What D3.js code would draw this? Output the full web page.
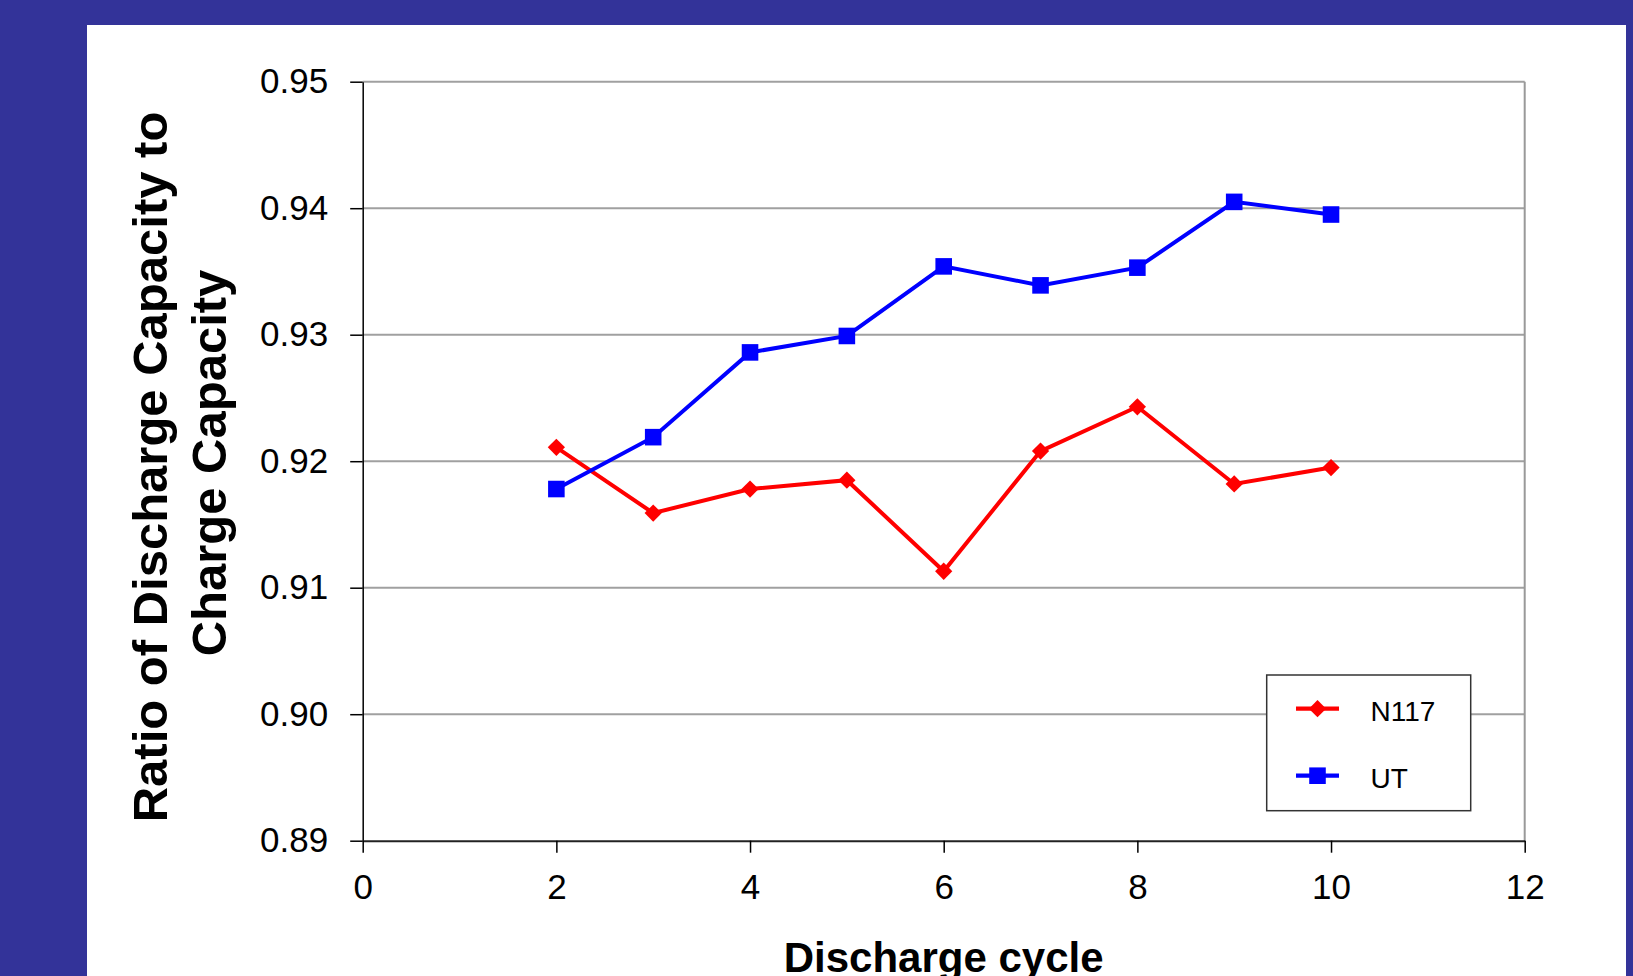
<!DOCTYPE html>
<html>
<head>
<meta charset="utf-8">
<script src="https://cdn.jsdelivr.net/npm/d3@7/dist/d3.min.js"></script>
<style>
  html, body { margin: 0; padding: 0; background: #333399; }
  svg { display: block; }
</style>
</head>
<body>
<svg id="chart" width="1633" height="976"></svg>
<script>
// Discharge/charge capacity ratio per cycle for two membranes
const cycles = [2, 3, 4, 5, 6, 7, 8, 9, 10];
const n117 = [0.9211, 0.9159, 0.9178, 0.9185, 0.9113, 0.9208, 0.9243, 0.9182, 0.9195];
const ut   = [0.9178, 0.9219, 0.9286, 0.9299, 0.9354, 0.9339, 0.9353, 0.9405, 0.9395];
const seriesNames = ["N117", "UT"];
const xTicks = [0, 2, 4, 6, 8, 10, 12];
const yTicks = [0.89, 0.90, 0.91, 0.92, 0.93, 0.94, 0.95];

const FONT = "'Liberation Sans', Arial, Helvetica, sans-serif";
const svg = d3.select("#chart");

// white slide panel on the blue background
svg.append("rect").attr("x", 87).attr("y", 25).attr("width", 1539).attr("height", 951).attr("fill", "#ffffff");

const plot = { left: 362.7, right: 1524.7, top: 81.7, bottom: 840.7 };

const x = d3.scaleLinear().domain([0, 12]).range([plot.left, plot.right]);
const y = d3.scaleLinear().domain([0.89, 0.95]).range([plot.bottom, plot.top]);

// horizontal gridlines
svg.append("g").selectAll("line").data(yTicks.slice(1)).join("line")
  .attr("x1", plot.left).attr("x2", plot.right)
  .attr("y1", d => y(d)).attr("y2", d => y(d))
  .attr("stroke", "#a0a0a0").attr("stroke-width", 2);

// right frame edge
svg.append("line")
  .attr("x1", plot.right).attr("x2", plot.right)
  .attr("y1", plot.top).attr("y2", plot.bottom)
  .attr("stroke", "#999999").attr("stroke-width", 2);

// y axis
const yAxis = svg.append("g")
  .attr("transform", `translate(${plot.left},0)`)
  .call(d3.axisLeft(y).tickValues(yTicks).tickFormat(d3.format(".2f"))
    .tickSize(12.5).tickSizeOuter(0).tickPadding(22));
yAxis.select(".domain").attr("stroke", "#000").attr("stroke-width", 1.5);
yAxis.selectAll(".tick line").attr("stroke", "#000").attr("stroke-width", 1.5);
yAxis.selectAll(".tick text").attr("font-family", FONT).attr("font-size", 35).attr("fill", "#000");

// x axis
const xAxis = svg.append("g")
  .attr("transform", `translate(0,${plot.bottom})`)
  .call(d3.axisBottom(x).tickValues(xTicks).tickFormat(d3.format("d"))
    .tickSize(12).tickSizeOuter(0).tickPadding(21));
xAxis.select(".domain").attr("stroke", "#222").attr("stroke-width", 2);
xAxis.selectAll(".tick line").attr("stroke", "#000").attr("stroke-width", 1.5);
xAxis.selectAll(".tick text").attr("font-family", FONT).attr("font-size", 35).attr("fill", "#000");

// axis titles
svg.append("text")
  .attr("x", (plot.left + plot.right) / 2).attr("y", 971.5)
  .attr("text-anchor", "middle")
  .attr("font-family", FONT).attr("font-weight", "bold").attr("font-size", 42)
  .text("Discharge cycle");

const yTitle = svg.append("text")
  .attr("transform", "translate(167,467) rotate(-90)")
  .attr("text-anchor", "middle")
  .attr("font-family", FONT).attr("font-weight", "bold").attr("font-size", 49);
yTitle.append("tspan").attr("x", 0).attr("y", 0).text("Ratio of Discharge Capacity to");
yTitle.append("tspan").attr("x", 4).attr("y", 59).text("Charge Capacity");

// series
const series = [
  { name: seriesNames[0], values: n117, color: "#ff0000", symbol: d3.symbolDiamond2, size: 190 },
  { name: seriesNames[1], values: ut,   color: "#0000ff", symbol: d3.symbolSquare2,  size: 350 }
];

const line = d3.line().x(d => x(d[0])).y(d => y(d[1]));

series.forEach(s => {
  const pts = cycles.map((c, i) => [c, s.values[i]]);
  svg.append("path").datum(pts)
    .attr("d", line).attr("fill", "none")
    .attr("stroke", s.color).attr("stroke-width", 4).attr("stroke-linejoin", "miter");
  svg.append("g").selectAll("path").data(pts).join("path")
    .attr("transform", d => `translate(${x(d[0])},${y(d[1])})`)
    .attr("d", d3.symbol().type(s.symbol).size(s.size))
    .attr("fill", s.color);
});

// legend
const legend = svg.append("g");
legend.append("rect")
  .attr("x", 1266.7).attr("y", 675).attr("width", 204).attr("height", 135.7)
  .attr("fill", "#fff").attr("stroke", "#333").attr("stroke-width", 1.5);
const legendRows = [708.7, 775.7];
series.forEach((s, i) => {
  const ly = legendRows[i];
  legend.append("line")
    .attr("x1", 1296).attr("x2", 1339).attr("y1", ly).attr("y2", ly)
    .attr("stroke", s.color).attr("stroke-width", 4.2);
  legend.append("path")
    .attr("transform", `translate(1317.5,${ly})`)
    .attr("d", d3.symbol().type(s.symbol).size(s.size))
    .attr("fill", s.color);
  legend.append("text")
    .attr("x", 1370.5).attr("y", ly + 12.5)
    .attr("font-family", FONT).attr("font-size", 28).attr("fill", "#000")
    .text(s.name);
});
</script>
</body>
</html>
